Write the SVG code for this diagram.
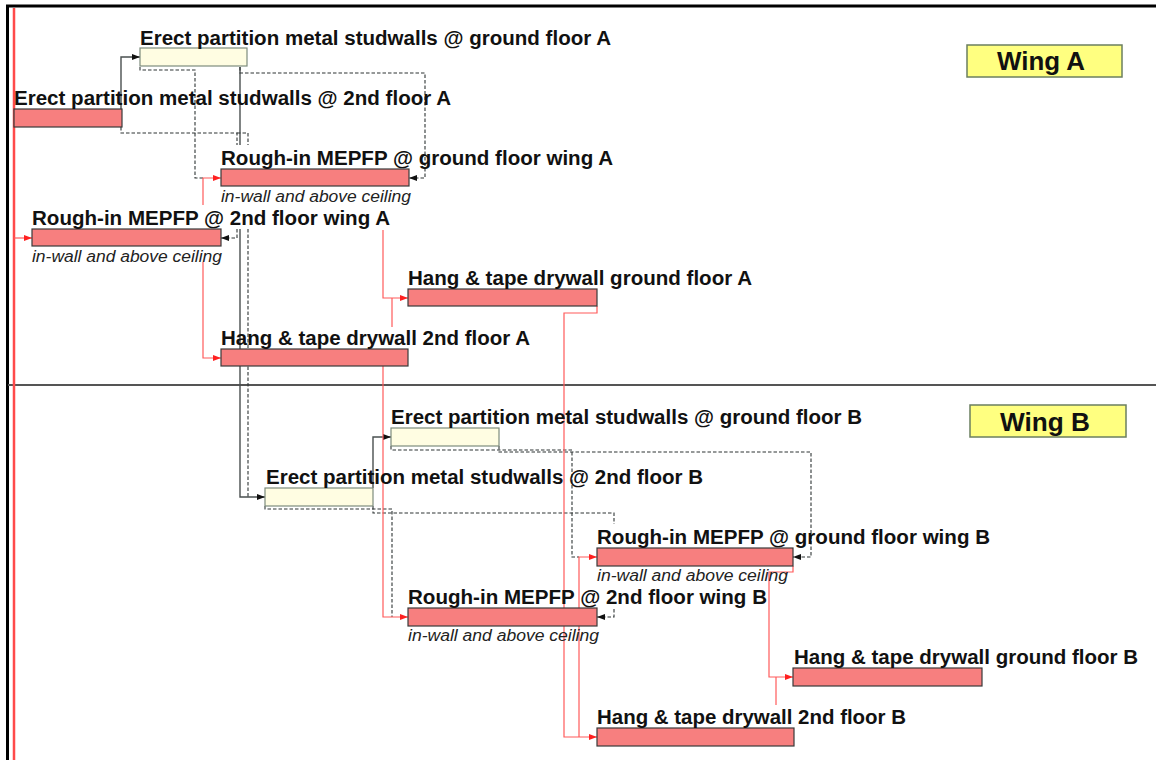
<svg xmlns="http://www.w3.org/2000/svg" width="1156" height="760" viewBox="0 0 1156 760">
<style>
.bar{stroke:#3a3a3a;stroke-width:1.2}
.crit{fill:#F77F7F}
.nc{fill:#FFFDE2;stroke:#7d8c7d;stroke-width:1.2}
.lbl{font-family:"Liberation Sans",Arial,sans-serif;font-weight:bold;font-size:19.5px;fill:#111}
.note{font-family:"Liberation Sans",Arial,sans-serif;font-style:italic;font-size:16px;fill:#222}
.wing{fill:#FFFF80;stroke:#6b7f5f;stroke-width:1.5}
.wt{font-family:"Liberation Sans",Arial,sans-serif;font-weight:bold;font-size:25px;fill:#111}
.s{fill:none;stroke:#4a5050;stroke-width:1.4}
.d{fill:none;stroke:#2f3535;stroke-width:1.1;stroke-dasharray:3.5 2}
.r{fill:none;stroke:#ff5a5a;stroke-width:1.2}
</style>
<defs>
<marker id="ab" markerUnits="userSpaceOnUse" viewBox="0 0 8 6" markerWidth="8" markerHeight="6" refX="8" refY="3" orient="auto"><path d="M0,0 L8,3 L0,6 z" fill="#111"/></marker>
<marker id="ar" markerUnits="userSpaceOnUse" viewBox="0 0 8 6" markerWidth="8" markerHeight="6" refX="8" refY="3" orient="auto"><path d="M0,0 L8,3 L0,6 z" fill="#ff2020"/></marker>
</defs>
<rect width="1156" height="760" fill="#fff"/>
<g id="frame">
<path d="M7.5,760 V6 H1156" fill="none" stroke="#000" stroke-width="3"/>
<path d="M8,385 H1156" stroke="#555" stroke-width="2"/>
<path d="M14,8 V760" stroke="#ff4a4a" stroke-width="2.5"/>
</g>
<g id="connectors">
<path class="s" d="M121,109 V57 H140" marker-end="url(#ab)"/>
<path class="s" d="M240,67 V145 M240,229 V497 H265" marker-end="url(#ab)"/>
<path class="s" d="M373,488 V437 H391" marker-end="url(#ab)"/>
<path class="d" d="M140,67 V70 H195 V178 H203"/>
<path class="d" d="M240,67 V73 H425 V178 H409" marker-end="url(#ab)"/>
<path class="d" d="M121,127 V133 H237 V145 M237,229 V238 H221" marker-end="url(#ab)"/>
<path class="d" d="M237,133 H248 V145 M248,229 V497"/>
<path class="d" d="M391,446 V450 H572 V557 H579"/>
<path class="d" d="M499,446 V452 H811 V557 H793" marker-end="url(#ab)"/>
<path class="d" d="M265,506 V509 H392 V617"/>
<path class="d" d="M373,506 V513 H614 V524 M614,609 V617 H597" marker-end="url(#ab)"/>
<path class="r" d="M14,238 H32" marker-end="url(#ar)"/>
<path class="r" d="M203,205 V178 H221" marker-end="url(#ar)"/>
<path class="r" d="M203,262 V358 H221" marker-end="url(#ar)"/>
<path class="r" d="M383,230 V298 H408" marker-end="url(#ar)"/>
<path class="r" d="M392,327 V298"/>
<path class="r" d="M383,366 V617 H408" marker-end="url(#ar)"/>
<path class="r" d="M597,306 V313 H564 V737 H597" marker-end="url(#ar)"/>
<path class="r" d="M579,608 V557 H597" marker-end="url(#ar)"/>
<path class="r" d="M579,626 V737"/>
<path class="r" d="M793,566 V572 H769 V677 H793" marker-end="url(#ar)"/>
<path class="r" d="M776,705 V677"/>
</g>
<g id="n1"><rect class="nc" x="140" y="48" width="107" height="18"/><text class="lbl" x="140" y="45" textLength="471" lengthAdjust="spacingAndGlyphs">Erect partition metal studwalls @ ground floor A</text></g>
<g id="n2"><rect class="bar crit" x="14" y="109" width="108" height="18"/><text class="lbl" x="14" y="105" textLength="437" lengthAdjust="spacingAndGlyphs">Erect partition metal studwalls @ 2nd floor A</text></g>
<g id="n3"><rect class="bar crit" x="221" y="169" width="188" height="17"/><text class="lbl" x="221" y="165" textLength="392" lengthAdjust="spacingAndGlyphs">Rough-in MEPFP @ ground floor wing A</text><text class="note" x="221" y="202" textLength="190" lengthAdjust="spacingAndGlyphs">in-wall and above ceiling</text></g>
<g id="n4"><rect class="bar crit" x="32" y="229" width="189" height="17"/><text class="lbl" x="32" y="225" textLength="358" lengthAdjust="spacingAndGlyphs">Rough-in MEPFP @ 2nd floor wing A</text><text class="note" x="32" y="262" textLength="190" lengthAdjust="spacingAndGlyphs">in-wall and above ceiling</text></g>
<g id="n5"><rect class="bar crit" x="408" y="289" width="189" height="17"/><text class="lbl" x="408" y="285" textLength="344" lengthAdjust="spacingAndGlyphs">Hang &amp; tape drywall ground floor A</text></g>
<g id="n6"><rect class="bar crit" x="221" y="349" width="187" height="17"/><text class="lbl" x="221" y="345" textLength="309" lengthAdjust="spacingAndGlyphs">Hang &amp; tape drywall 2nd floor A</text></g>
<g id="n7"><rect class="nc" x="391" y="428" width="108" height="18"/><text class="lbl" x="391" y="424" textLength="471" lengthAdjust="spacingAndGlyphs">Erect partition metal studwalls @ ground floor B</text></g>
<g id="n8"><rect class="nc" x="265" y="488" width="108" height="18"/><text class="lbl" x="266" y="484" textLength="437" lengthAdjust="spacingAndGlyphs">Erect partition metal studwalls @ 2nd floor B</text></g>
<g id="n9"><rect class="bar crit" x="597" y="548" width="196" height="18"/><text class="lbl" x="597" y="544" textLength="393" lengthAdjust="spacingAndGlyphs">Rough-in MEPFP @ ground floor wing B</text><text class="note" x="597" y="581" textLength="191" lengthAdjust="spacingAndGlyphs">in-wall and above ceiling</text></g>
<g id="n10"><rect class="bar crit" x="408" y="608" width="189" height="18"/><text class="lbl" x="408" y="604" textLength="359" lengthAdjust="spacingAndGlyphs">Rough-in MEPFP @ 2nd floor wing B</text><text class="note" x="408" y="641" textLength="191" lengthAdjust="spacingAndGlyphs">in-wall and above ceiling</text></g>
<g id="n11"><rect class="bar crit" x="793" y="668" width="189" height="18"/><text class="lbl" x="794" y="664" textLength="344" lengthAdjust="spacingAndGlyphs">Hang &amp; tape drywall ground floor B</text></g>
<g id="n12"><rect class="bar crit" x="597" y="728" width="197" height="18"/><text class="lbl" x="597" y="724" textLength="309" lengthAdjust="spacingAndGlyphs">Hang &amp; tape drywall 2nd floor B</text></g>
<g id="wingA"><rect class="wing" x="967" y="45" width="155" height="32"/><text class="wt" x="1041" y="70" text-anchor="middle" textLength="88" lengthAdjust="spacingAndGlyphs">Wing A</text></g>
<g id="wingB"><rect class="wing" x="970" y="405" width="156" height="32"/><text class="wt" x="1045" y="431" text-anchor="middle" textLength="90" lengthAdjust="spacingAndGlyphs">Wing B</text></g>
</svg>
